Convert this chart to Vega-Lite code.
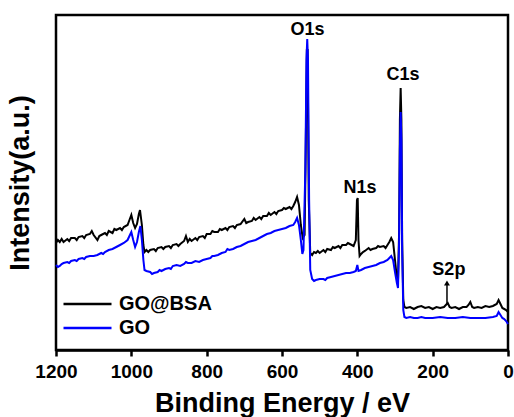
{
  "$schema": "https://vega.github.io/schema/vega-lite/v6.json",
  "width": 452,
  "height": 335,
  "autosize": "none",
  "padding": {"left": 56, "top": 15, "right": 6, "bottom": 67},
  "background": "white",
  "config": {
    "font": "Liberation Sans",
    "view": {"stroke": "black", "strokeWidth": 2.5},
    "axis": {"grid": false}
  },
  "datasets": {
    "black": [
      {"e":1200,"v":107},{"e":1195,"v":110},{"e":1190,"v":108},{"e":1185,"v":111},{"e":1180,"v":108},{"e":1170,"v":111},{"e":1165,"v":109},{"e":1160,"v":112},{"e":1150,"v":112},{"e":1145,"v":110},{"e":1140,"v":113},{"e":1130,"v":114},{"e":1125,"v":112},{"e":1120,"v":115},{"e":1110,"v":116},{"e":1105,"v":119},{"e":1100,"v":115},{"e":1090,"v":110},{"e":1085,"v":114},{"e":1080,"v":115},{"e":1070,"v":117},{"e":1065,"v":115},{"e":1060,"v":119},{"e":1050,"v":117},{"e":1045,"v":121},{"e":1040,"v":120},{"e":1030,"v":122},{"e":1025,"v":120},{"e":1020,"v":123},{"e":1010,"v":125},{"e":1005,"v":130},{"e":1000,"v":135},{"e":995,"v":127},{"e":990,"v":122},{"e":985,"v":126},{"e":980,"v":136},{"e":977,"v":140},{"e":972,"v":125},{"e":968,"v":105},{"e":965,"v":98},{"e":960,"v":100},{"e":955,"v":98},{"e":950,"v":100},{"e":940,"v":101},{"e":935,"v":99},{"e":930,"v":102},{"e":920,"v":103},{"e":915,"v":101},{"e":910,"v":103},{"e":900,"v":104},{"e":895,"v":102},{"e":890,"v":105},{"e":880,"v":106},{"e":875,"v":104},{"e":870,"v":106},{"e":860,"v":109},{"e":855,"v":114},{"e":850,"v":108},{"e":845,"v":111},{"e":840,"v":109},{"e":830,"v":112},{"e":825,"v":110},{"e":820,"v":113},{"e":810,"v":114},{"e":805,"v":112},{"e":800,"v":116},{"e":790,"v":116},{"e":785,"v":119},{"e":780,"v":118},{"e":770,"v":118},{"e":765,"v":121},{"e":760,"v":120},{"e":750,"v":122},{"e":745,"v":120},{"e":740,"v":123},{"e":730,"v":124},{"e":725,"v":122},{"e":720,"v":125},{"e":710,"v":126},{"e":700,"v":131},{"e":695,"v":127},{"e":690,"v":128},{"e":680,"v":129},{"e":675,"v":132},{"e":670,"v":130},{"e":660,"v":133},{"e":655,"v":131},{"e":650,"v":134},{"e":640,"v":134},{"e":635,"v":137},{"e":630,"v":135},{"e":620,"v":138},{"e":615,"v":136},{"e":610,"v":139},{"e":600,"v":140},{"e":595,"v":142},{"e":590,"v":141},{"e":580,"v":143},{"e":575,"v":141},{"e":570,"v":144},{"e":565,"v":148},{"e":560,"v":153},{"e":555,"v":145},{"e":550,"v":125},{"e":545,"v":112},{"e":540,"v":115},{"e":537,"v":200},{"e":534,"v":300},{"e":532,"v":300},{"e":529,"v":150},{"e":525,"v":97},{"e":520,"v":95},{"e":515,"v":98},{"e":510,"v":97},{"e":505,"v":99},{"e":500,"v":97},{"e":490,"v":100},{"e":485,"v":98},{"e":480,"v":101},{"e":470,"v":100},{"e":465,"v":103},{"e":460,"v":102},{"e":450,"v":104},{"e":445,"v":102},{"e":440,"v":105},{"e":430,"v":105},{"e":425,"v":107},{"e":420,"v":106},{"e":410,"v":104},{"e":404,"v":110},{"e":401,"v":150},{"e":399,"v":152},{"e":397,"v":110},{"e":394,"v":94},{"e":390,"v":96},{"e":385,"v":98},{"e":380,"v":99},{"e":370,"v":102},{"e":365,"v":100},{"e":360,"v":101},{"e":350,"v":102},{"e":345,"v":104},{"e":340,"v":103},{"e":330,"v":104},{"e":325,"v":102},{"e":320,"v":105},{"e":315,"v":108},{"e":310,"v":112},{"e":305,"v":108},{"e":300,"v":90},{"e":295,"v":72},{"e":292,"v":70},{"e":289,"v":120},{"e":287,"v":230},{"e":285,"v":262},{"e":283,"v":230},{"e":281,"v":110},{"e":278,"v":50},{"e":275,"v":43},{"e":270,"v":42},{"e":260,"v":43},{"e":250,"v":41},{"e":240,"v":43},{"e":230,"v":44},{"e":220,"v":42},{"e":210,"v":43},{"e":200,"v":41},{"e":190,"v":43},{"e":180,"v":42},{"e":170,"v":43},{"e":165,"v":45},{"e":160,"v":47},{"e":155,"v":43},{"e":150,"v":42},{"e":140,"v":43},{"e":130,"v":41},{"e":120,"v":43},{"e":110,"v":43},{"e":105,"v":45},{"e":100,"v":48},{"e":95,"v":43},{"e":90,"v":42},{"e":80,"v":43},{"e":70,"v":42},{"e":60,"v":44},{"e":50,"v":43},{"e":40,"v":44},{"e":30,"v":46},{"e":25,"v":50},{"e":20,"v":46},{"e":15,"v":42},{"e":10,"v":41},{"e":5,"v":40},{"e":0,"v":38}
    ],
    "blue": [
      {"e":1200,"v":85},{"e":1195,"v":83},{"e":1190,"v":84},{"e":1185,"v":86},{"e":1180,"v":87},{"e":1170,"v":88},{"e":1165,"v":87},{"e":1160,"v":89},{"e":1150,"v":90},{"e":1145,"v":89},{"e":1140,"v":91},{"e":1130,"v":92},{"e":1125,"v":91},{"e":1120,"v":93},{"e":1110,"v":94},{"e":1100,"v":94},{"e":1090,"v":95},{"e":1080,"v":97},{"e":1075,"v":96},{"e":1070,"v":98},{"e":1060,"v":100},{"e":1050,"v":101},{"e":1040,"v":103},{"e":1030,"v":105},{"e":1020,"v":107},{"e":1010,"v":110},{"e":1005,"v":114},{"e":1000,"v":118},{"e":995,"v":110},{"e":990,"v":103},{"e":985,"v":108},{"e":980,"v":118},{"e":976,"v":124},{"e":972,"v":110},{"e":968,"v":90},{"e":965,"v":80},{"e":960,"v":79},{"e":950,"v":78},{"e":945,"v":76},{"e":940,"v":77},{"e":930,"v":78},{"e":925,"v":80},{"e":920,"v":79},{"e":910,"v":81},{"e":900,"v":82},{"e":895,"v":81},{"e":890,"v":84},{"e":880,"v":85},{"e":870,"v":84},{"e":860,"v":86},{"e":855,"v":88},{"e":850,"v":87},{"e":840,"v":87},{"e":830,"v":89},{"e":820,"v":88},{"e":810,"v":90},{"e":800,"v":91},{"e":790,"v":92},{"e":785,"v":94},{"e":780,"v":94},{"e":770,"v":95},{"e":760,"v":97},{"e":750,"v":98},{"e":745,"v":101},{"e":740,"v":100},{"e":730,"v":101},{"e":720,"v":103},{"e":710,"v":104},{"e":700,"v":106},{"e":690,"v":108},{"e":680,"v":109},{"e":670,"v":110},{"e":660,"v":112},{"e":650,"v":114},{"e":640,"v":116},{"e":630,"v":117},{"e":620,"v":119},{"e":610,"v":120},{"e":600,"v":121},{"e":590,"v":122},{"e":580,"v":124},{"e":570,"v":125},{"e":565,"v":128},{"e":560,"v":132},{"e":555,"v":125},{"e":550,"v":110},{"e":546,"v":96},{"e":543,"v":100},{"e":538,"v":180},{"e":535,"v":290},{"e":533,"v":311},{"e":531,"v":290},{"e":528,"v":150},{"e":525,"v":80},{"e":520,"v":71},{"e":515,"v":69},{"e":510,"v":70},{"e":500,"v":71},{"e":490,"v":71},{"e":485,"v":70},{"e":480,"v":72},{"e":470,"v":73},{"e":460,"v":74},{"e":450,"v":75},{"e":440,"v":76},{"e":430,"v":77},{"e":420,"v":77},{"e":410,"v":78},{"e":404,"v":79},{"e":400,"v":85},{"e":397,"v":79},{"e":390,"v":80},{"e":380,"v":82},{"e":370,"v":83},{"e":360,"v":84},{"e":350,"v":85},{"e":340,"v":87},{"e":330,"v":88},{"e":320,"v":90},{"e":315,"v":92},{"e":310,"v":94},{"e":305,"v":90},{"e":300,"v":78},{"e":295,"v":67},{"e":292,"v":62},{"e":289,"v":110},{"e":287,"v":200},{"e":285,"v":238},{"e":283,"v":210},{"e":281,"v":100},{"e":278,"v":40},{"e":275,"v":33},{"e":270,"v":32},{"e":260,"v":33},{"e":250,"v":32},{"e":240,"v":32},{"e":230,"v":33},{"e":220,"v":32},{"e":200,"v":32},{"e":180,"v":33},{"e":160,"v":32},{"e":140,"v":32},{"e":120,"v":33},{"e":100,"v":32},{"e":80,"v":32},{"e":60,"v":32},{"e":40,"v":33},{"e":30,"v":34},{"e":25,"v":38},{"e":20,"v":35},{"e":15,"v":32},{"e":10,"v":31},{"e":5,"v":29},{"e":0,"v":26}
    ],
    "labels": [
      {"e":532,"v":320,"t":"O1s"},
      {"e":279,"v":275,"t":"C1s"},
      {"e":393,"v":162,"t":"N1s"},
      {"e":157,"v":80,"t":"S2p"}
    ],
    "arrow": [{"e":162,"v0":46,"v1":67}]
  },
  "layer": [
    {
      "data": {"name": "black"},
      "transform": [{"calculate": "'GO@BSA'", "as": "s"}],
      "mark": {"type": "line", "strokeWidth": 2},
      "encoding": {
        "x": {"field": "e", "type": "quantitative", "scale": {"domain": [1200, 0], "nice": false},
          "axis": {"values": [1200,1100,1000,900,800,700,600,500,400,300,200,100,0],
            "labelExpr": "datum.value % 200 === 0 ? datum.label : ''",
            "format": "d", "domain": true, "domainWidth": 2.5, "domainColor": "black",
            "tickColor": "black", "tickWidth": 2.5, "tickSize": 6,
            "labelFont": "Liberation Sans", "labelFontWeight": "bold", "labelFontSize": 19, "labelColor": "black", "labelPadding": 6,
            "labelFlush": false, "labelOverlap": false,
            "title": "Binding Energy / eV", "titleFont": "Liberation Sans", "titleFontWeight": "bold", "titleFontSize": 27, "titleColor": "black", "titlePadding": 9}},
        "y": {"field": "v", "type": "quantitative", "scale": {"domain": [0, 335], "nice": false},
          "axis": {"ticks": false, "labels": false, "domain": false,
            "title": "Intensity(a.u.)", "titleFont": "Liberation Sans", "titleFontWeight": "bold", "titleFontSize": 27, "titleColor": "black", "titlePadding": 22}},
        "color": {"field": "s", "type": "nominal",
          "scale": {"domain": ["GO@BSA", "GO"], "range": ["#000000", "#0000ff"]},
          "legend": {"title": null, "orient": "none", "legendX": 6, "legendY": 277,
            "symbolType": "stroke", "symbolSize": 2304, "symbolStrokeWidth": 2.5,
            "clipHeight": 24, "labelFont": "Liberation Sans", "labelFontWeight": "bold", "labelFontSize": 20, "labelColor": "black", "labelOffset": 6, "rowPadding": 0}}
      }
    },
    {
      "data": {"name": "blue"},
      "transform": [{"calculate": "'GO'", "as": "s"}],
      "mark": {"type": "line", "strokeWidth": 2},
      "encoding": {
        "x": {"field": "e", "type": "quantitative"},
        "y": {"field": "v", "type": "quantitative"},
        "color": {"field": "s", "type": "nominal"}
      }
    },
    {
      "data": {"name": "labels"},
      "mark": {"type": "text", "font": "Liberation Sans", "fontWeight": "bold", "fontSize": 18, "color": "black"},
      "encoding": {
        "x": {"field": "e", "type": "quantitative"},
        "y": {"field": "v", "type": "quantitative"},
        "text": {"field": "t"}
      }
    },
    {
      "data": {"name": "arrow"},
      "mark": {"type": "rule", "color": "black", "strokeWidth": 1.5},
      "encoding": {
        "x": {"field": "e", "type": "quantitative"},
        "y": {"field": "v0", "type": "quantitative"},
        "y2": {"field": "v1"}
      }
    },
    {
      "data": {"name": "arrow"},
      "mark": {"type": "point", "shape": "triangle-up", "filled": true, "color": "black", "size": 35, "opacity": 1},
      "encoding": {
        "x": {"field": "e", "type": "quantitative"},
        "y": {"field": "v1", "type": "quantitative"}
      }
    }
  ]
}
